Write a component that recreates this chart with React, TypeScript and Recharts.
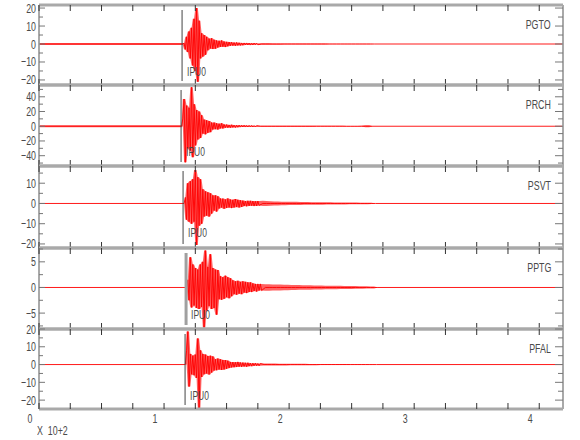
import { Area, ComposedChart, Line, ReferenceLine, XAxis, YAxis } from "recharts";

const RED = "#ff0000";
const FRAME = "#a9a9a9";
const TICK_DARK = "#333333";
const TEXT = "#4a4a4a";
const FONT = "'Liberation Sans', Arial, sans-serif";
const NARROW = 0.68;

// time axis, in units of 10^2 s
const X_MAX = 4.19;
const X_TICKS = [0, 0.25, 0.5, 0.75, 1, 1.25, 1.5, 1.75, 2, 2.25, 2.5, 2.75, 3, 3.25, 3.5, 3.75, 4];
const X_LABELS = [0, 1, 2, 3, 4];
const DT = 0.01;
const CODA_DT = 0.03;

const STATIONS = ["PGTO", "PRCH", "PSVT", "PPTG", "PFAL"];
const PICKS = [1.144, 1.136, 1.152, 1.176, 1.168];
const ONSETS = [1.15, 1.14, 1.16, 1.18, 1.17];
// background noise half-width before the onset
const PRE_NOISE = [0.6, 1.3, 0, 0, 0];

// signed amplitudes sampled every DT after onset
const PGTO_WAVE = [
  0.5, -3, 4, -4.5, 7, -8, 9, -12, 14, -15, 20, -21, 13,
  -8, 6, -7, 5, -6, 4,
  -3.5, 3, -2.5, 3.2, -2.8, 2.4, -2.6, 2,
  -2, 1.8, -1.6, 2, -1.5, 1.4, -1.7, 1.2, -1.3, 1.1,
  -1, 1, -0.9, 0.8, -1, 0.9, -0.8, 0.7, -0.8, 0.6, -0.7,
  0.6, -0.5, 0.6, -0.5, 0.5, -0.6, 0.4, -0.5, 0.5, -0.4, 0.4, -0.4,
];
const PRCH_WAVE = [
  10, 37, -49, 28, -30, 25,
  -33, 53, -42, 30,
  -26, 22, -18, 20, -16, 15,
  -10, 9, -11, 8, -9, 7, -8,
  5, -4.5, 5, -4, 4, -4.5, 3.5, -3, 4, -3,
  2.5, -2, 2.2, -2, 1.8, -2, 2, -1.6, 1.5, -1.8, 1.5, -1.4, 1.5,
  -1.2, 1.2, -1, 1.3, -1.1, 1, -1, 1.1, -0.9, 1, -0.9, 0.8, -0.9, 0.8,
];
const PSVT_WAVE = [
  3, -8, 10, -9, 11,
  -10, 12, -9, 16.5, -20.5, 13, -11, 12, -10,
  7, -6.5, 6, -6, 5.5, -6.5, 5, -5,
  4, -3.5, 4, -4, 3.5,
  -2.5, 2.5, -2, 2.4, -2.6, 2, -2.2, 2.5, -2, 2, -2.3, 1.8, -2, 2.2, -1.8, 1.8, -2, 1.6, -1.7,
  1.4, -1.3, 1.2, -1.4, 1.3, -1.2, 1.3, -1.1, 1.2, -1.3, 1.1, -1.2, 1.2, -1,
];
const PPTG_WAVE = [
  1.5, -2.5, 5.9, -3.9, 4.5, -3.5, 3.8,
  -4, 3.5, -4.2, 4.5, -3.8, 5, -7.8, 7.2,
  -4.5, 4, -3.6, 6.5, -4.2, 3.8, -4, 3.5, -5.3, 3.4,
  -2.3, 2.2, -2.4, 2, -2.2, 2.3, -1.9, 2, -2.1, 1.8, -1.7,
  1.4, -1.3, 1.2, -1.4, 1.3, -1.2, 1.1, -1.3, 1.2, -1, 1.1, -1.1, 1, -0.9, 1, -0.9,
  0.8, -0.7, 0.7, -0.8, 0.7, -0.6, 0.7, -0.6,
];
const PFAL_WAVE = [
  8, 18.6, -12.4, 6, -5.5, 5, -6, 5.6,
  -7.5, 14.7, -25, 8, -7,
  6, -5.5, 5.6, -5, 4.8, -5.6, 5, -4.5, 4.6,
  -3.4, 3, -3.2, 3.4, -2.8, 3, -3, 2.6, -2.8, 2.5, -2.4, 2.2, -2,
  1.5, -1.6, 1.4, -1.5, 1.3, -1.4, 1.5, -1.2, 1.2, -1.3, 1.1, -1.1, 1, -1.2, 1, -0.9,
  0.8, -0.9, 0.8, -0.7, 0.8, -0.7, 0.6, -0.7, 0.6,
];

// coda envelope (half-width) every CODA_DT after the wave samples
const PGTO_CODA = [
  0.45, 0.4, 0.4, 0.35, 0.35, 0.35, 0.3, 0.3, 0.3, 0.3, 0.3, 0.3, 0.25, 0.25, 0.25,
  0.25, 0.25, 0.25, 0.2, 0.2, 0.2, 0.2, 0.2, 0.2, 0.2, 0.15, 0.15, 0.15, 0.15, 0.1,
];
const PRCH_CODA = [
  0.8, 0.8, 0.75, 0.7, 0.7, 0.7, 0.65, 0.65, 0.6, 0.6, 0.6, 0.6, 0.55, 0.55, 0.55,
  0.5, 0.5, 0.5, 0.5, 0.5, 0.5, 0.5, 0.5, 0.45, 0.45, 0.45, 0.45, 0.5, 1.4, 1.5,
];
const PSVT_CODA = [
  1.3, 1.2, 1.1, 1, 0.95, 0.9, 0.85, 0.8, 0.8, 0.8, 0.75, 0.7, 0.7, 0.65, 0.65,
  0.6, 0.6, 0.55, 0.55, 0.5, 0.5, 0.5, 0.5, 0.45, 0.45, 0.45, 0.4, 0.4, 0.35, 0.3,
];
const PPTG_CODA = [
  0.65, 0.62, 0.6, 0.6, 0.58, 0.55, 0.52, 0.5, 0.48, 0.46, 0.45, 0.44, 0.42, 0.4, 0.4,
  0.38, 0.36, 0.35, 0.34, 0.33, 0.32, 0.3, 0.3, 0.28, 0.27, 0.26, 0.25, 0.22, 0.2, 0.18,
];
const PFAL_CODA = [
  0.6, 0.6, 0.55, 0.55, 0.5, 0.5, 0.5, 0.45, 0.45, 0.42, 0.4, 0.4, 0.38, 0.35, 0.35,
  0.32, 0.3, 0.3, 0.3, 0.28, 0.26, 0.25, 0.25, 0.22, 0.2, 0.2, 0.2, 0.18, 0.16, 0.15,
];

const WAVES = [PGTO_WAVE, PRCH_WAVE, PSVT_WAVE, PPTG_WAVE, PFAL_WAVE];
const CODAS = [PGTO_CODA, PRCH_CODA, PSVT_CODA, PPTG_CODA, PFAL_CODA];

const Y_DOMAINS: [number, number][] = [[-22.8, 21.7], [-54, 56], [-22, 18.5], [-8.1, 7.7], [-25, 20]];
const Y_MAJOR = [
  [-20, -10, 0, 10, 20],
  [-40, -20, 0, 20, 40],
  [-20, -10, 0, 10],
  [-5, 0, 5],
  [-20, -10, 0, 10, 20],
];
const Y_MINOR = [
  [-15, -5, 5, 15],
  [-50, -30, -10, 10, 30, 50],
  [-15, -5, 5, 15],
  [-7.5, -2.5, 2.5, 7.5],
  [-15, -5, 5, 15],
];

// layout
const W = 580;
const PLOT_LEFT = 39;
const PLOT_RIGHT = 563;
const PAD = 10;
const PANEL_TOPS = [5, 85, 166, 248, 329];
const PANEL_H = [80, 81, 82, 81, 80];
const BOTTOM_EXTRA = 28;

type Row = { t: number; v: number | null; band?: [number, number] };

function buildTrace(onset: number, noise: number, wave: number[], coda: number[]) {
  const rows: Row[] = [
    { t: 0, v: 0, band: [-noise, noise] },
    { t: onset, v: 0, band: [-noise, noise] },
  ];
  wave.forEach((v, i) => {
    const prev = i > 0 ? wave[i - 1] : 0;
    const next = i < wave.length - 1 ? wave[i + 1] : v;
    rows.push({
      t: onset + (i + 1) * DT,
      v,
      band: [Math.min(prev, v, next), Math.max(prev, v, next)],
    });
  });
  const codaStart = onset + wave.length * DT;
  coda.forEach((a, i) => {
    rows.push({ t: codaStart + (i + 1) * CODA_DT, v: 0, band: [-a, a] });
  });
  rows.push({ t: codaStart + (coda.length + 1) * CODA_DT, v: 0, band: [0, 0] });
  rows.push({ t: X_MAX, v: 0 });
  return rows;
}

const fmt = (v: number) => (v < 0 ? "\u2212" + Math.abs(v) : String(v));

function NarrowText({ x, y, anchor = "start", size = 13, children }: any) {
  return (
    <text
      transform={`translate(${x},${y}) scale(${NARROW},1)`}
      textAnchor={anchor}
      fontSize={size}
      fill={TEXT}
      fontFamily={FONT}
    >
      {children}
    </text>
  );
}

function Panel({ idx }: { idx: number }) {
  const last = idx === STATIONS.length - 1;
  const h = PANEL_H[idx];
  const plotTop = PAD;
  const plotBottom = PAD + h;
  const chartH = PAD + h + (last ? BOTTOM_EXTRA : PAD);
  const data = buildTrace(ONSETS[idx], PRE_NOISE[idx], WAVES[idx], CODAS[idx]);
  const majors = Y_MAJOR[idx];
  const yTicks = [...majors, ...Y_MINOR[idx]].sort((a, b) => a - b);
  const isPPTG = STATIONS[idx] === "PPTG";

  const topTick = (p: any) => (
    <line x1={p.x} x2={p.x} y1={plotTop} y2={plotTop + 6} stroke={TICK_DARK} strokeWidth={1} />
  );
  const bottomTick = (p: any) => {
    const v = p.payload.value;
    return (
      <g>
        <line x1={p.x} x2={p.x} y1={plotBottom} y2={plotBottom - 6} stroke={TICK_DARK} strokeWidth={1} />
        {last && X_LABELS.includes(v) && (
          <NarrowText x={p.x - 9} y={plotBottom + 14} anchor="middle" size={13}>
            {v}
          </NarrowText>
        )}
      </g>
    );
  };
  const leftTick = (p: any) => {
    const v = p.payload.value;
    const major = majors.includes(v);
    return (
      <g>
        <line x1={PLOT_LEFT} x2={PLOT_LEFT + (major ? 6 : 4)} y1={p.y} y2={p.y} stroke="#777" strokeWidth={1} />
        {major && (
          <NarrowText x={PLOT_LEFT - 3} y={p.y + 4.5} anchor="end" size={13}>
            {fmt(v)}
          </NarrowText>
        )}
      </g>
    );
  };
  const rightTick = (p: any) => {
    const major = majors.includes(p.payload.value);
    return (
      <line x1={PLOT_RIGHT - (major ? 8 : 5)} x2={PLOT_RIGHT} y1={p.y} y2={p.y} stroke="#777" strokeWidth={1} />
    );
  };
  const pickShape = (p: any) => {
    const x = p.x1 ?? 0;
    return (
      <g>
        <line
          x1={x}
          x2={x}
          y1={plotTop + 5}
          y2={plotBottom - 4}
          stroke={isPPTG ? "#a0a0a0" : "#444"}
          strokeWidth={isPPTG ? 3 : 1}
        />
        <NarrowText x={x + 5} y={plotTop + 70.5} size={12.5}>
          IPU0
        </NarrowText>
      </g>
    );
  };

  return (
    <div style={{ position: "absolute", left: 0, top: PANEL_TOPS[idx] - PAD, width: W, height: chartH }}>
      <ComposedChart
        width={W}
        height={chartH}
        data={data}
        margin={{ top: PAD - 1, right: 0, bottom: (last ? BOTTOM_EXTRA : PAD) - 1, left: 0 }}
      >
        <XAxis
          xAxisId="t"
          orientation="top"
          type="number"
          dataKey="t"
          domain={[0, X_MAX]}
          ticks={X_TICKS}
          interval={0}
          height={1}
          tick={topTick}
          tickLine={false}
          axisLine={{ stroke: FRAME, strokeWidth: 3 }}
          allowDataOverflow
        />
        <XAxis
          xAxisId="b"
          orientation="bottom"
          type="number"
          dataKey="t"
          domain={[0, X_MAX]}
          ticks={X_TICKS}
          interval={0}
          height={1}
          tick={bottomTick}
          tickLine={false}
          axisLine={{ stroke: FRAME, strokeWidth: 3 }}
          allowDataOverflow
        />
        <YAxis
          yAxisId="l"
          orientation="left"
          type="number"
          domain={Y_DOMAINS[idx]}
          ticks={yTicks}
          interval={0}
          width={PLOT_LEFT}
          tick={leftTick}
          tickLine={false}
          axisLine={{ stroke: FRAME, strokeWidth: 2 }}
          allowDataOverflow
        />
        <YAxis
          yAxisId="r"
          orientation="right"
          type="number"
          domain={Y_DOMAINS[idx]}
          ticks={yTicks}
          interval={0}
          width={W - PLOT_RIGHT}
          tick={rightTick}
          tickLine={false}
          axisLine={{ stroke: FRAME, strokeWidth: 2 }}
          allowDataOverflow
        />
        <Area
          xAxisId="b"
          yAxisId="l"
          type="linear"
          dataKey="band"
          stroke="none"
          fill={RED}
          fillOpacity={0.62}
          connectNulls={false}
          isAnimationActive={false}
          activeDot={false}
        />
        <Line
          xAxisId="b"
          yAxisId="l"
          type="linear"
          dataKey="v"
          stroke={RED}
          strokeWidth={1}
          strokeOpacity={0.9}
          dot={false}
          activeDot={false}
          isAnimationActive={false}
        />
        <ReferenceLine xAxisId="b" yAxisId="l" x={PICKS[idx]} shape={pickShape} ifOverflow="visible" />
      </ComposedChart>
      <div
        style={{
          position: "absolute",
          right: W - 551,
          top: PAD + 12,
          fontFamily: FONT,
          fontSize: 13,
          color: TEXT,
          lineHeight: "16px",
          transform: `scaleX(${NARROW})`,
          transformOrigin: "right center",
        }}
      >
        {STATIONS[idx]}
      </div>
    </div>
  );
}

export default function App() {
  return (
    <div style={{ position: "absolute", left: 0, top: 0, width: W, height: 440, overflow: "hidden", background: "#fff" }}>
      {STATIONS.map((s, i) => (
        <Panel key={s} idx={i} />
      ))}
      <div
        style={{
          position: "absolute",
          left: 37,
          top: 424,
          fontFamily: FONT,
          fontSize: 13,
          color: TEXT,
          lineHeight: "14px",
          whiteSpace: "pre",
          transform: `scaleX(${NARROW})`,
          transformOrigin: "left center",
        }}
      >
        {"X  10+2"}
      </div>
    </div>
  );
}
